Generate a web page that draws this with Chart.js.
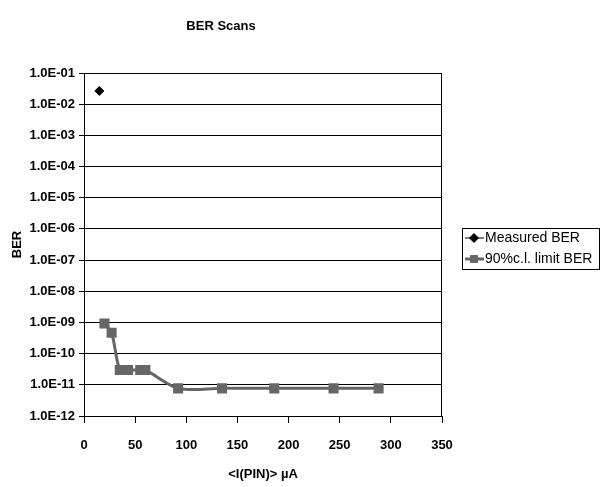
<!DOCTYPE html>
<html>
<head>
<meta charset="utf-8">
<script src="https://cdn.jsdelivr.net/npm/chart.js@4.4.0/dist/chart.umd.min.js"></script>
<style>
    body { margin: 0; background: #fff; }
</style>
</head>
<body>
<canvas id="ber-chart" width="601" height="487"></canvas>
<script>
// Data
const measuredCurrent = [15];
const measuredBER = [2.65e-2];

const limitCurrent = [20, 27, 35, 43, 55, 60, 92, 135, 186, 244, 288];
const limitBER = [9.3e-10, 4.7e-10, 3.0e-11, 3.0e-11, 3.0e-11, 3.0e-11, 7.7e-12, 7.7e-12, 7.7e-12, 7.7e-12, 7.7e-12];

const seriesLabels = ['Measured BER', '90%c.l. limit BER'];
const berDecades = [-12, -11, -10, -9, -8, -7, -6, -5, -4, -3, -2, -1];

function toPoints(xs, ys) {
    return xs.map((x, i) => ({ x: x, y: ys[i] }));
}

// Excel style label: 1.0E-05
function sciLabel(value) {
    const e = Math.round(Math.log10(value));
    return '1.0E' + (e < 0 ? '-' : '+') + String(Math.abs(e)).padStart(2, '0');
}

Chart.defaults.font.family = "'Liberation Sans', Arial, sans-serif";
Chart.defaults.color = '#000';

// Plot area frame
const framePlugin = {
    id: 'frame',
    afterDraw(chart) {
        const { ctx, chartArea } = chart;
        ctx.save();
        ctx.strokeStyle = '#000';
        ctx.lineWidth = 1;
        ctx.strokeRect(chartArea.left + 0.5, chartArea.top + 0.5, chartArea.width - 1, chartArea.height);
        ctx.restore();
    }
};

// Boxed legend to the right of the plot
const boxLegend = {
    id: 'boxLegend',
    afterDraw(chart) {
        const ctx = chart.ctx;
        const x0 = 462, y0 = 228, w = 137, h = 41, rowH = 21;
        ctx.save();
        ctx.strokeStyle = '#000';
        ctx.lineWidth = 1;
        ctx.strokeRect(x0 + 0.5, y0 + 0.5, w, h);
        chart.data.datasets.forEach((ds, i) => {
            const cy = y0 + 7 + rowH * i + 3;
            ctx.strokeStyle = ds.borderColor;
            ctx.lineWidth = ds.borderWidth;
            ctx.beginPath();
            ctx.moveTo(x0 + 3, cy);
            ctx.lineTo(x0 + 22, cy);
            ctx.stroke();
            ctx.fillStyle = ds.pointBackgroundColor;
            ctx.strokeStyle = ds.pointBorderColor;
            ctx.lineWidth = 1;
            Chart.helpers.drawPoint(ctx, {
                pointStyle: ds.pointStyle,
                radius: ds.pointRadius,
                borderWidth: 1,
                rotation: 0
            }, x0 + 12, cy);
            ctx.fillStyle = '#000';
            ctx.font = "14px 'Liberation Sans', Arial, sans-serif";
            ctx.textBaseline = 'middle';
            ctx.fillText(ds.label, x0 + 23, cy);
        });
        ctx.restore();
    }
};

new Chart(document.getElementById('ber-chart'), {
    type: 'line',
    data: {
        datasets: [{
            label: seriesLabels[0],
            data: toPoints(measuredCurrent, measuredBER),
            borderColor: '#000',
            borderWidth: 1,
            pointStyle: 'rectRot',
            pointRadius: 4.5,
            pointBackgroundColor: '#000',
            pointBorderColor: '#000',
            showLine: false
        }, {
            label: seriesLabels[1],
            data: toPoints(limitCurrent, limitBER),
            borderColor: '#666666',
            borderWidth: 3,
            pointStyle: 'rect',
            pointRadius: 5,
            pointBackgroundColor: '#666666',
            pointBorderColor: '#666666',
            tension: 0.3
        }]
    },
    options: {
        responsive: false,
        animation: false,
        layout: {
            padding: { left: 0, right: 159, top: 0, bottom: 0 }
        },
        plugins: {
            legend: { display: false },
            tooltip: { enabled: false },
            title: {
                display: true,
                text: 'BER Scans',
                font: { size: 13, weight: 'bold' },
                padding: { top: 19, bottom: 38.4 }
            }
        },
        scales: {
            x: {
                type: 'linear',
                min: 0,
                max: 350,
                ticks: {
                    stepSize: 50,
                    padding: 15,
                    maxRotation: 0,
                    font: { size: 13, weight: 'bold' }
                },
                grid: {
                    drawOnChartArea: false,
                    drawTicks: true,
                    tickLength: 7,
                    color: '#000'
                },
                border: { color: '#000', width: 1 },
                title: {
                    display: true,
                    text: '<I(PIN)> µA',
                    font: { size: 13, weight: 'bold' },
                    padding: { top: 0, bottom: 5 }
                },
                afterFit(scale) {
                    scale.height = 71;
                }
            },
            y: {
                type: 'logarithmic',
                min: 1e-12,
                max: 1e-1,
                afterBuildTicks(scale) {
                    scale.ticks = berDecades.map(e => ({ value: Math.pow(10, e) }));
                },
                ticks: {
                    autoSkip: false,
                    padding: 4,
                    font: { size: 13, weight: 'bold' },
                    callback: (value) => sciLabel(value)
                },
                grid: {
                    color: '#000',
                    tickLength: 5
                },
                border: { color: '#000', width: 1 },
                title: {
                    display: true,
                    text: 'BER',
                    font: { size: 13, weight: 'bold' },
                    padding: { top: 10, bottom: 0 }
                },
                afterFit(scale) {
                    scale.width = 84;
                }
            }
        }
    },
    plugins: [framePlugin, boxLegend]
});
</script>
</body>
</html>
